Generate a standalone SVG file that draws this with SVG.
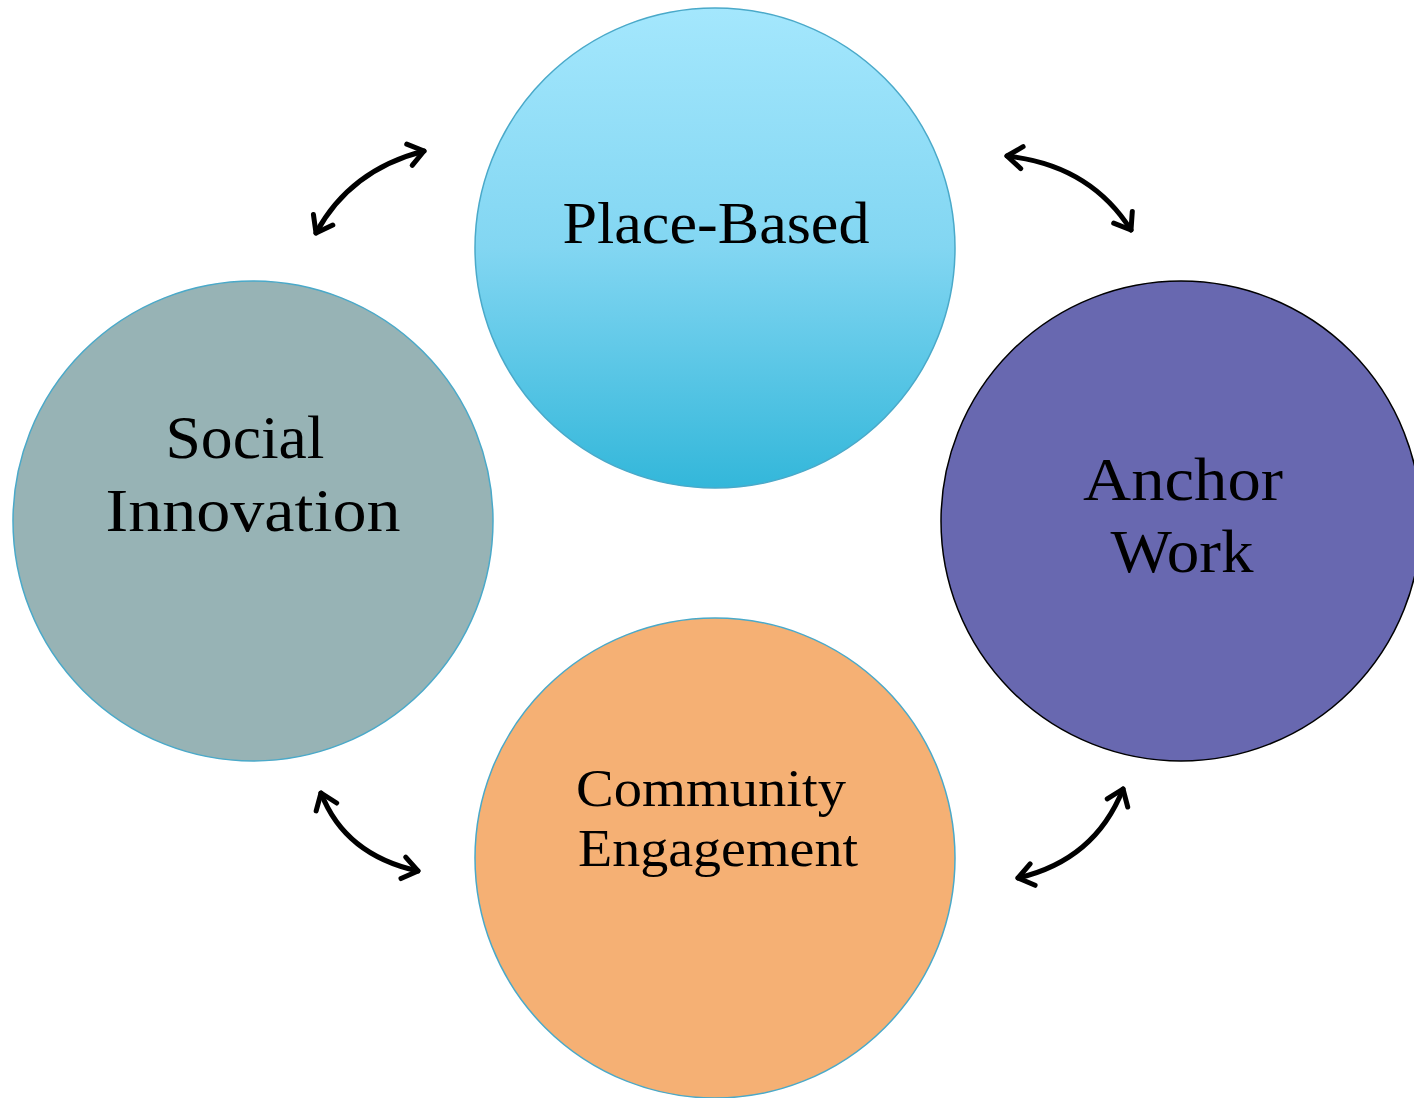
<svg xmlns="http://www.w3.org/2000/svg" width="1414" height="1098" viewBox="0 0 1414 1098">
<style>
.lbl{font-family:"Liberation Serif","Times New Roman",serif;fill:#000;text-anchor:middle}
.con{fill:none;stroke:#000;stroke-width:5;stroke-linecap:round;marker-start:url(#ah);marker-end:url(#ah)}
</style>
<defs>
<linearGradient id="gTop" x1="0" y1="0" x2="0" y2="1">
<stop offset="0" stop-color="#a4e7fd"/>
<stop offset="0.5" stop-color="#82d6f2"/>
<stop offset="1" stop-color="#33b7da"/>
</linearGradient>
<marker id="ah" viewBox="-20 -16 24 32" markerWidth="24" markerHeight="32" refX="0" refY="0" orient="auto-start-reverse" markerUnits="userSpaceOnUse">
<path d="M-15,-11 L0,0 L-15,11" fill="none" stroke="#000" stroke-width="5" stroke-linecap="round" stroke-linejoin="round"/>
</marker>
</defs>
<rect width="1414" height="1098" fill="#fff"/>
<g id="connectors">
<path class="con" d="M316,233 Q350,170 424,151"/>
<path class="con" d="M1007,156 Q1090,165 1131,230"/>
<path class="con" d="M321,793 Q345,855 418,871"/>
<path class="con" d="M1018,878 Q1095,860 1123,789"/>
</g>
<g id="node-place-based">
<circle cx="715" cy="248" r="240" fill="url(#gTop)" stroke="#4aa9c9" stroke-width="1.5"/>
<text class="lbl" x="716" y="243" font-size="60" textLength="307" lengthAdjust="spacingAndGlyphs">Place-Based</text>
</g>
<g id="node-social-innovation">
<circle cx="253" cy="521" r="240" fill="#97b3b5" stroke="#4aa9c9" stroke-width="1.5"/>
<text class="lbl" x="245" y="458" font-size="62" textLength="159" lengthAdjust="spacingAndGlyphs">Social</text>
<text class="lbl" x="253" y="531" font-size="62" textLength="295" lengthAdjust="spacingAndGlyphs">Innovation</text>
</g>
<g id="node-anchor-work">
<circle cx="1181" cy="521" r="240" fill="#6868b0" stroke="#000" stroke-width="1.5"/>
<text class="lbl" x="1183" y="500" font-size="62" textLength="200" lengthAdjust="spacingAndGlyphs">Anchor</text>
<text class="lbl" x="1182" y="572" font-size="62" textLength="143" lengthAdjust="spacingAndGlyphs">Work</text>
</g>
<g id="node-community-engagement">
<circle cx="715" cy="858" r="240" fill="#f5b074" stroke="#4aa9c9" stroke-width="1.5"/>
<text class="lbl" x="711" y="806" font-size="52" textLength="270" lengthAdjust="spacingAndGlyphs">Community</text>
<text class="lbl" x="718" y="866" font-size="52" textLength="280" lengthAdjust="spacingAndGlyphs">Engagement</text>
</g>
</svg>
